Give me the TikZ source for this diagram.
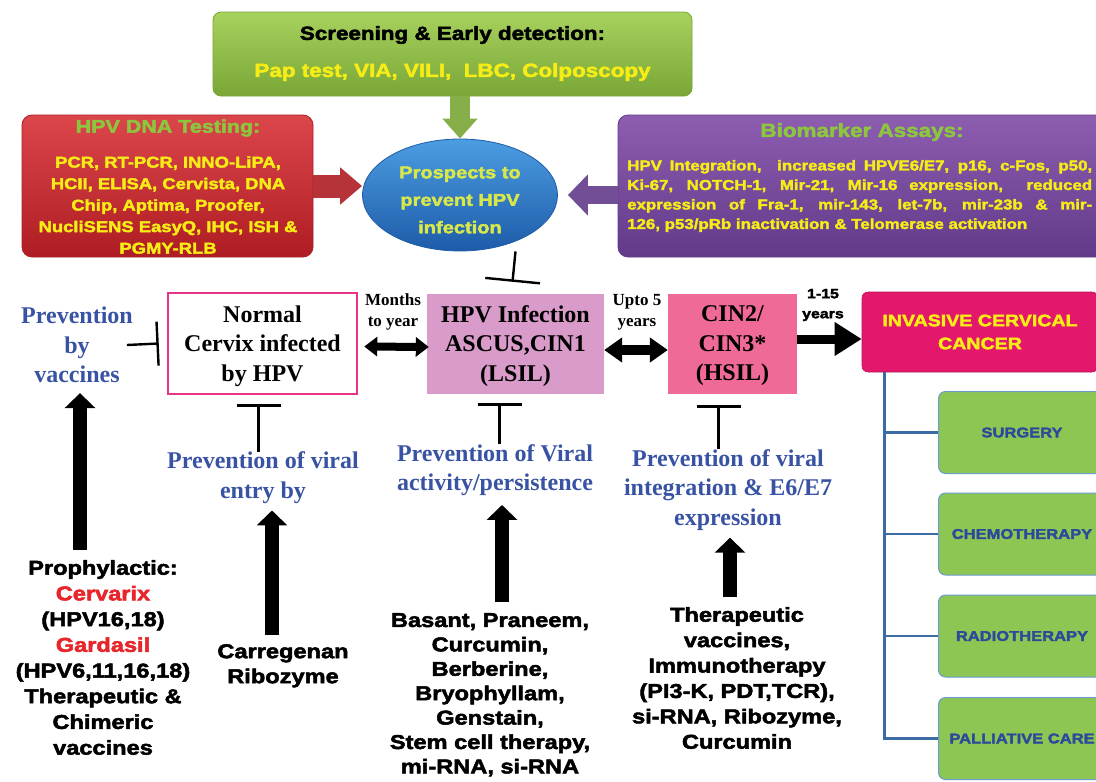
\documentclass[tikz,border=0pt]{standalone}
\usepackage{fontspec}
\setmainfont{Liberation Serif}
\newfontfamily\heavy[FakeStretch=1.18,FakeBold=2.5,BoldFeatures={FakeBold=2.5}]{Liberation Sans}
\usetikzlibrary{arrows.meta,shapes.geometric,calc}
\definecolor{grnT}{HTML}{A8D25E}
\definecolor{grnB}{HTML}{79A636}
\definecolor{redT}{HTML}{DB464B}
\definecolor{redB}{HTML}{AE1D23}
\definecolor{purT}{HTML}{8D5DB0}
\definecolor{purB}{HTML}{623A8A}
\definecolor{bluT}{HTML}{4C9DE2}
\definecolor{bluB}{HTML}{1D5BA8}
\definecolor{yel}{HTML}{F6EC16}
\definecolor{ylg}{HTML}{D8E84A}
\definecolor{ttl}{HTML}{8CC63F}
\definecolor{bluTxt}{HTML}{3953A4}
\definecolor{hpvP}{HTML}{D99BC9}
\definecolor{cinP}{HTML}{EF6A97}
\definecolor{canc}{HTML}{E3186C}
\definecolor{normB}{HTML}{E8338B}
\definecolor{treeC}{HTML}{3C6CA6}
\definecolor{gbox}{HTML}{8DC653}
\definecolor{gboxB}{HTML}{6A9BD2}
\definecolor{gtxt}{HTML}{2C4A9A}
\definecolor{vred}{HTML}{E8252A}
\newcommand\hv{\heavy\bfseries}
\tikzset{
  hvtext/.style={inner sep=0pt, align=center, font=\hv\fontsize{#1}{24}\selectfont},
  sfblue/.style={inner sep=0pt, align=center, text=bluTxt, font=\bfseries\fontsize{24}{29.5}\selectfont},
  sfblack/.style={inner sep=0pt, align=center, font=\bfseries\fontsize{24}{29.5}\selectfont},
  small/.style={inner sep=0pt, align=center, font=\bfseries\fontsize{17}{21}\selectfont},
  statebox/.style={minimum height=100pt, inner sep=0pt},
  inhib/.style={line width=2.4pt, -{Bar[width=44pt]}},
  bigup/.style={line width=14pt, -{Triangle[width=30pt,length=15pt]}},
  dblA/.style={line width=8pt, {Triangle[width=19pt,length=13pt]}-{Triangle[width=19pt,length=13pt]}},
  dblB/.style={line width=10pt, {Triangle[width=24pt,length=18pt]}-{Triangle[width=24pt,length=18pt]}},
  treeline/.style={draw=treeC, line width=2.6pt},
  treatbox/.style={rounded corners=7pt, fill=gbox, draw=gboxB, line width=1pt, minimum width=168pt, minimum height=82pt, inner sep=0pt},
  treattxt/.style={inner sep=0pt, text=gtxt, font=\hv\fontsize{14}{17}\selectfont}
}
\begin{document}
\begin{tikzpicture}[x=1pt,y=-1pt]
\clip (0,0) rectangle (1096,782);
\fill[white] (0,0) rectangle (1096,782);

% ---- top: screening
\node[rounded corners=8pt, top color=grnT, bottom color=grnB, draw=grnB, line width=0.8pt,
      minimum width=479pt, minimum height=84pt, inner sep=0pt] (screen) at (452.5,54) {};
\node[hvtext=19, text=black] (screenT) at (452.5,35) {Screening \& Early detection:};
\node[hvtext=19, text=yel] (screenL) at (452.5,72) {Pap test, VIA, VILI,\ \ LBC, Colposcopy};

% ---- HPV DNA testing (red)
\node[rounded corners=10pt, top color=redT, bottom color=redB, draw=redB, line width=0.8pt,
      minimum width=291pt, minimum height=142pt, inner sep=0pt] (dna) at (167.5,186) {};
\node[hvtext=18.2, text=ttl] (dnaT) at (168,128) {HPV DNA Testing:};
\node[inner sep=0pt, align=center, text=yel, font=\hv\fontsize{15.6}{21.5}\selectfont] (dnaL) at (168,205)
  {PCR, RT-PCR, INNO-LiPA,\\HCII, ELISA, Cervista, DNA\\Chip, Aptima, Proofer,\\NucliSENS EasyQ, IHC, ISH \&\\PGMY-RLB};

% ---- Biomarker (purple)
\node[rounded corners=10pt, top color=purT, bottom color=purB, draw=purB, line width=0.8pt,
      minimum width=488pt, minimum height=142pt, inner sep=0pt] (bio) at (862,186) {};
\node[hvtext=19, text=ttl] (bioT) at (862,132) {Biomarker Assays:};
\node[anchor=west, inner sep=0pt, align=left, text=yel, font=\hv\fontsize{14.3}{19.5}\selectfont] (bioL) at (627,196)
  {\makebox[465pt][s]{HPV Integration,\ \ increased HPVE6/E7, p16, c-Fos, p50,}\\
   \makebox[465pt][s]{Ki-67, NOTCH-1, Mir-21, Mir-16 expression,\ \ reduced}\\
   \makebox[465pt][s]{expression of Fra-1, mir-143, let-7b, mir-23b \& mir-}\\
   \makebox[465pt][l]{126, p53/pRb inactivation \& Telomerase activation}};

% ---- central ellipse
\node[ellipse, top color=bluT, bottom color=bluB, draw=bluB, line width=0.8pt,
      minimum width=195pt, minimum height=112pt, inner sep=0pt] (prosp) at (460,195) {};
\node[inner sep=0pt, align=center, text=ylg, font=\hv\fontsize{17}{27.5}\selectfont] (prospT) at (460,200)
  {Prospects to\\prevent HPV\\infection};

% block arrows into the ellipse
\draw[draw=grnB!90!white, line width=20pt, -{Triangle[width=34pt,length=20pt]}] (screen.south -| prosp.north) -- (prosp.north);
\draw[draw=redB!90!white, line width=23pt, -{Triangle[width=36pt,length=22pt]}] (dna.east) -- (dna.east -| prosp.west);
\draw[draw=purB!90!white, line width=18pt, -{Triangle[width=40pt,length=20pt]}] (bio.west |- prosp.east) -- ([xshift=10pt]prosp.east);

% ---- states row
\node[sfblue] (pv) at (77,345) {Prevention\\by\\vaccines};
\node[statebox, draw=normB, line width=2.5pt, fill=white, minimum width=189pt, minimum height=101pt] (normal) at (262.5,343.5) {};
\node[sfblack] (normalT) at (262.5,346) {Normal\\Cervix infected\\by HPV};
\node[statebox, fill=hpvP, minimum width=177pt] (hpv) at (515.5,344) {};
\node[sfblack] (hpvT) at (515.5,346) {HPV Infection\\ASCUS,CIN1\\(LSIL)};
\node[statebox, fill=cinP, minimum width=129pt] (cin) at (732.5,344) {};
\node[sfblack] (cinT) at (732.5,346) {CIN2/\\CIN3*\\(HSIL)};
\node[rounded corners=6pt, fill=canc, draw=canc!80!black, line width=0.6pt, minimum width=236pt, minimum height=80pt, inner sep=0pt] (canc) at (980,332) {};
\node[inner sep=0pt, align=center, text=yel, font=\hv\fontsize{16.6}{23}\selectfont] (cancT) at (980,332) {INVASIVE CERVICAL\\CANCER};

\node[small] (months) at (393,312) {Months\\to year};
\node[small] (upto) at (637,312) {Upto 5\\years};
\node[inner sep=0pt, align=center, font=\hv\fontsize{13.5}{20}\selectfont] (yrs) at (823,305) {1-15\\years};

\draw[dblA] ([xshift=6pt,yshift=-3pt]normal.east) -- ([xshift=2pt,yshift=-3pt]hpv.west);
\draw[dblB] ([yshift=-6pt]hpv.east) -- ([yshift=-6pt]cin.west);
\draw[line width=9pt, -{Triangle[width=32pt,length=27pt]}] ([yshift=5pt]cin.east) -- ([yshift=-7pt]canc.west);

% inhibition from vaccines and from the ellipse
\draw[inhib] ([xshift=-6pt]pv.east) -- ([xshift=-8pt]normal.west);
\draw[line width=2.4pt, -{Bar[width=55pt]}] (hpv.north |- prosp.south) -- ([xshift=-3pt,yshift=12pt]hpv.north);

% ---- lower prevention labels
\node[sfblue] (pve) at (263,477.5) {Prevention of viral\\entry by};
\node[sfblue] (pva) at (495,470) {Prevention of Viral\\activity/persistence};
\node[sfblue] (pvi) at (728,490) {Prevention of viral\\integration \& E6/E7\\expression};

\draw[inhib] ([xshift=-4pt]normal.south |- pve.north) -- ([xshift=-4pt,yshift=-9pt]normal.south);
\draw[inhib] ([xshift=-16pt]hpv.south |- pva.north) -- ([xshift=-16pt,yshift=-9pt]hpv.south);
\draw[inhib] ([xshift=-14pt]cin.south |- pvi.north) -- ([xshift=-14pt,yshift=-11pt]cin.south);

% ---- agents
\node[inner sep=0pt, align=center, anchor=north, font=\hv\fontsize{20}{25.7}\selectfont] (vacc) at (103,560)
  {Prophylactic:\\\textcolor{vred}{Cervarix}\\(HPV16,18)\\\textcolor{vred}{Gardasil}\\(HPV6,11,16,18)\\Therapeutic \&\\Chimeric\\vaccines};
\node[inner sep=0pt, align=center, anchor=north, font=\hv\fontsize{20}{25}\selectfont] (carr) at (283,644)
  {Carregenan\\Ribozyme};
\node[inner sep=0pt, align=center, anchor=north, font=\hv\fontsize{20}{24.4}\selectfont] (bas) at (490,613)
  {Basant, Praneem,\\Curcumin,\\Berberine,\\Bryophyllam,\\Genstain,\\Stem cell therapy,\\mi-RNA, si-RNA};
\node[inner sep=0pt, align=center, anchor=north, font=\hv\fontsize{20}{25.4}\selectfont] (ther) at (737,607)
  {Therapeutic\\vaccines,\\Immunotherapy\\(PI3-K, PDT,TCR),\\si-RNA, Ribozyme,\\Curcumin};

\draw[bigup, shorten <=10pt, shorten >=10pt] ([xshift=3pt]pv.south |- vacc.north) -- ([xshift=3pt]pv.south);
\draw[bigup, shorten <=9pt, shorten >=7pt] ([xshift=-11pt]carr.north) -- ([xshift=-11pt]carr.north |- pve.south);
\draw[bigup, shorten <=11pt, shorten >=9pt] ([xshift=12pt]bas.north) -- ([xshift=12pt]bas.north |- pva.south);
\draw[bigup, shorten <=10pt, shorten >=7pt] ([xshift=-7pt]ther.north) -- ([xshift=-7pt]ther.north |- pvi.south);

% ---- treatments
\node[treatbox, anchor=west] (surg) at (938,432.5) {};
\node[treattxt] (surgT) at (1022,432.5) {SURGERY};
\node[treatbox, anchor=west] (chemo) at (938,534) {};
\node[treattxt] (chemoT) at (1022,534) {CHEMOTHERAPY};
\node[treatbox, anchor=west] (radio) at (938,636) {};
\node[treattxt] (radioT) at (1022,636) {RADIOTHERAPY};
\node[treatbox, anchor=west] (pall) at (938,738.5) {};
\node[treattxt] (pallT) at (1022,738.5) {PALLIATIVE CARE};

\coordinate (trunk) at ([xshift=23pt]canc.south west);
\draw[treeline] (trunk) |- (pall.west);
\draw[treeline] (trunk |- surg.west) -- (surg.west);
\draw[treeline] (trunk |- chemo.west) -- (chemo.west);
\draw[treeline] (trunk |- radio.west) -- (radio.west);
\end{tikzpicture}
\end{document}
